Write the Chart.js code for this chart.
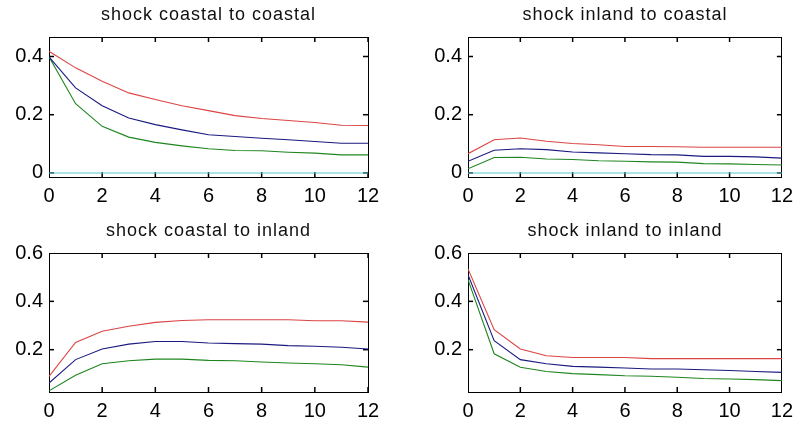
<!DOCTYPE html>
<html>
<head>
<meta charset="utf-8">
<script src="https://cdn.jsdelivr.net/npm/chart.js@4.4.1/dist/chart.umd.min.js"></script>
<style>
  html, body { margin: 0; padding: 0; background: #fff; }
  #fig { position: relative; width: 800px; height: 426px; background: #fff; }
  #fig canvas { position: absolute; }
</style>
</head>
<body>
<div id="fig">
  <canvas id="p1" width="400" height="213" style="left:0;top:0"></canvas>
  <canvas id="p2" width="400" height="213" style="left:400px;top:0"></canvas>
  <canvas id="p3" width="400" height="213" style="left:0;top:213px"></canvas>
  <canvas id="p4" width="400" height="213" style="left:400px;top:213px"></canvas>
</div>
<script>
// Horizon (months after the shock)
const months = [0, 1, 2, 3, 4, 5, 6, 7, 8, 9, 10, 11, 12];

// Tick positions
const xTicks = [0, 2, 4, 6, 8, 10, 12];
const yTicksTop = [0, 0.2, 0.4];
const yTicksBottom = [0.2, 0.4, 0.6];

// shock coastal to coastal
const ccUpper  = [0.418, 0.361, 0.315, 0.275, 0.252, 0.231, 0.214, 0.197, 0.187, 0.180, 0.173, 0.164, 0.163];
const ccMedian = [0.399, 0.292, 0.231, 0.189, 0.166, 0.148, 0.131, 0.125, 0.119, 0.114, 0.108, 0.102, 0.102];
const ccLower  = [0.399, 0.238, 0.160, 0.123, 0.105, 0.093, 0.083, 0.077, 0.076, 0.071, 0.068, 0.062, 0.062];
const ccZero   = [0, 0, 0, 0, 0, 0, 0, 0, 0, 0, 0, 0, 0];

// shock inland to coastal
const icUpper  = [0.066, 0.114, 0.120, 0.109, 0.101, 0.097, 0.091, 0.091, 0.090, 0.088, 0.088, 0.088, 0.088];
const icMedian = [0.040, 0.078, 0.083, 0.080, 0.072, 0.069, 0.066, 0.063, 0.062, 0.057, 0.057, 0.055, 0.051];
const icLower  = [0.014, 0.053, 0.054, 0.048, 0.046, 0.042, 0.040, 0.038, 0.037, 0.032, 0.031, 0.029, 0.027];
const icZero   = [0, 0, 0, 0, 0, 0, 0, 0, 0, 0, 0, 0, 0];

// shock coastal to inland
const ciUpper  = [0.090, 0.230, 0.276, 0.297, 0.313, 0.321, 0.324, 0.324, 0.324, 0.324, 0.320, 0.320, 0.314];
const ciMedian = [0.062, 0.159, 0.203, 0.223, 0.234, 0.234, 0.228, 0.225, 0.223, 0.217, 0.214, 0.210, 0.203];
const ciLower  = [0.030, 0.094, 0.142, 0.154, 0.161, 0.161, 0.156, 0.154, 0.149, 0.145, 0.142, 0.138, 0.128];

// shock inland to inland
const iiUpper  = [0.534, 0.283, 0.203, 0.175, 0.168, 0.168, 0.168, 0.163, 0.163, 0.163, 0.163, 0.163, 0.163];
const iiMedian = [0.510, 0.237, 0.159, 0.142, 0.131, 0.128, 0.124, 0.120, 0.120, 0.117, 0.114, 0.110, 0.106];
const iiLower  = [0.490, 0.183, 0.127, 0.110, 0.101, 0.097, 0.092, 0.090, 0.086, 0.081, 0.079, 0.076, 0.072];

const COLORS = { upper: '#dc4444', median: '#1a1a80', lower: '#1f861f', zero: '#5ccad2' };
const TICK_FONT = { family: '"Liberation Sans", Arial, sans-serif', size: 20 };
const TITLE_FONT = '18px "Liberation Sans", Arial, sans-serif';
const TICK_LEN = 5;

function series(values, color) {
  return {
    data: months.map((m, i) => ({ x: m, y: values[i] })),
    borderColor: color,
    borderWidth: 1.1,
    pointRadius: 0,
    tension: 0,
    fill: false
  };
}

// Tick marks on the box edges: short line markers centred on the edge, the outer
// half cut away by the chart-area clip so only the inward half remains
function edgeTicks(points, rotation) {
  return {
    data: points,
    showLine: false,
    pointStyle: 'line',
    pointRadius: TICK_LEN,
    pointRotation: rotation,
    pointBorderColor: '#000',
    pointBorderWidth: 1.5,
    borderColor: '#000',
    clip: 0
  };
}

function boxTicks(yMin, yMax, yTicks) {
  return [
    edgeTicks(xTicks.map(v => ({ x: v, y: yMin })), 90),
    edgeTicks(xTicks.map(v => ({ x: v, y: yMax })), 90),
    edgeTicks(yTicks.map(v => ({ x: 0, y: v })), 0),
    edgeTicks(yTicks.map(v => ({ x: 12, y: v })), 0)
  ];
}

// Panel title centred above the plotting box
const titlePlugin = {
  id: 'panelTitle',
  afterDraw(chart, args, opts) {
    const { ctx, chartArea: a } = chart;
    ctx.save();
    ctx.fillStyle = '#111';
    ctx.font = TITLE_FONT;
    ctx.letterSpacing = '1px';
    ctx.textAlign = 'center';
    ctx.textBaseline = 'middle';
    ctx.fillText(opts.text, (a.left + a.right) / 2, a.top - 22);
    ctx.restore();
  }
};

// Black axis line forming one side of the box
function boxAxis(extra) {
  return Object.assign({
    type: 'linear',
    grid: { display: false, drawTicks: false },
    border: { display: true, color: '#000', width: 1 }
  }, extra);
}

function panel(id, title, lines, yMin, yMax, yTicks, pad, yWidth, xHeight) {
  const setX = s => { s.ticks = xTicks.map(v => ({ value: v })); };
  const setY = s => { s.ticks = yTicks.map(v => ({ value: v })); };
  new Chart(document.getElementById(id), {
    type: 'line',
    data: { datasets: lines.concat(boxTicks(yMin, yMax, yTicks)) },
    options: {
      responsive: false,
      animation: false,
      devicePixelRatio: 1,
      events: [],
      layout: { padding: { left: 0, right: pad.right, top: pad.top, bottom: 0 } },
      plugins: {
        legend: { display: false },
        tooltip: { enabled: false },
        title: { display: false },
        panelTitle: { text: title }
      },
      scales: {
        x: boxAxis({
          position: 'bottom', min: 0, max: 12,
          ticks: { font: TICK_FONT, color: '#000', padding: 7, maxRotation: 0,
                   callback: v => String(v) },
          afterBuildTicks: setX,
          afterFit: s => { s.height = xHeight; }
        }),
        x2: boxAxis({
          position: 'top', min: 0, max: 12,
          ticks: { display: false },
          afterBuildTicks: setX,
          afterFit: s => { s.height = 0; }
        }),
        y: boxAxis({
          position: 'left', min: yMin, max: yMax,
          ticks: { font: TICK_FONT, color: '#000', padding: 6,
                   callback: v => String(Number(v.toFixed(1))) },
          afterBuildTicks: setY,
          afterFit: s => { s.width = yWidth; }
        }),
        y2: boxAxis({
          position: 'right', min: yMin, max: yMax,
          ticks: { display: false },
          afterBuildTicks: setY,
          afterFit: s => { s.width = 0; }
        })
      }
    },
    plugins: [titlePlugin]
  });
}

panel('p1', 'shock coastal to coastal', [
  series(ccUpper, COLORS.upper), series(ccMedian, COLORS.median),
  series(ccLower, COLORS.lower), series(ccZero, COLORS.zero)
], -0.014, 0.467, yTicksTop, { top: 37, right: 32 }, 49, 36);

panel('p2', 'shock inland to coastal', [
  series(icUpper, COLORS.upper), series(icMedian, COLORS.median),
  series(icLower, COLORS.lower), series(icZero, COLORS.zero)
], -0.014, 0.467, yTicksTop, { top: 37, right: 13 }, 68, 36);

panel('p3', 'shock coastal to inland', [
  series(ciUpper, COLORS.upper), series(ciMedian, COLORS.median),
  series(ciLower, COLORS.lower)
], 0.025, 0.6, yTicksBottom, { top: 40, right: 32 }, 49, 34);

panel('p4', 'shock inland to inland', [
  series(iiUpper, COLORS.upper), series(iiMedian, COLORS.median),
  series(iiLower, COLORS.lower)
], 0.025, 0.6, yTicksBottom, { top: 40, right: 13 }, 68, 34);
</script>
</body>
</html>
